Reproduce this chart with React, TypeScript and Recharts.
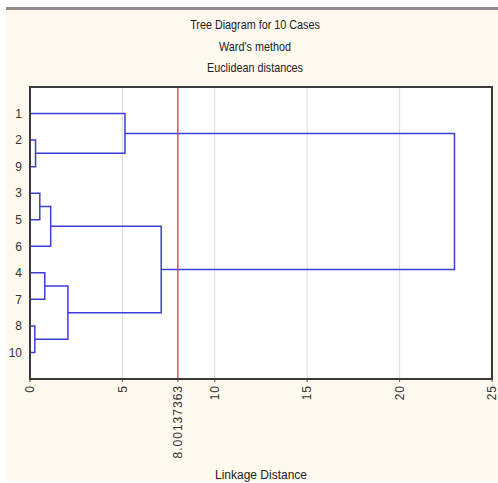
import { LineChart, Line, XAxis, YAxis, CartesianGrid, ReferenceLine, Label } from 'recharts';

const titleLines = ['Tree Diagram for 10 Cases', "Ward's method", 'Euclidean distances'];

// leaves in the order they appear, top to bottom
const leafLabels = ['1', '2', '9', '3', '5', '6', '4', '7', '8', '10'];

// merges: index < 10 is a leaf row, index >= 10 is an earlier merge (10 + k)
const mergeLeft = [1, 8, 3, 6, 12, 13, 0, 14, 16];
const mergeRight = [2, 9, 4, 7, 5, 11, 10, 15, 17];
const mergeHeight = [0.3, 0.26, 0.53, 0.8, 1.12, 2.05, 5.14, 7.1, 22.97];

const cutoff = 8.00137363;
const xTicks = [0, 5, cutoff, 10, 15, 20, 25];
const rowTicks = [1, 2, 3, 4, 5, 6, 7, 8, 9, 10];

// position (row) and height of every node
const nodeY: number[] = leafLabels.map((_, i) => i + 1);
const nodeH: number[] = leafLabels.map(() => 0);
mergeHeight.forEach((h, k) => {
  nodeY.push((nodeY[mergeLeft[k]] + nodeY[mergeRight[k]]) / 2);
  nodeH.push(h);
});

const links = mergeHeight.map((h, k) => {
  const a = mergeLeft[k];
  const b = mergeRight[k];
  return [
    { x: nodeH[a], y: nodeY[a] },
    { x: h, y: nodeY[a] },
    { x: h, y: nodeY[b] },
    { x: nodeH[b], y: nodeY[b] },
  ];
});

const font = "'Liberation Sans', Arial, sans-serif";

function XTick(props: any) {
  const { x, y, payload } = props;
  const v = payload.value;
  const text = v === cutoff ? '8.00137363' : String(v);
  return (
    <text
      x={0}
      y={0}
      dy="0.35em"
      transform={`translate(${x},${y}) rotate(-90)`}
      textAnchor="end"
      fontSize={12}
      letterSpacing={1}
      fill="#333"
      fontFamily={font}
    >
      {text}
    </text>
  );
}

export default function App() {
  return (
    <div style={{ position: 'absolute', left: 0, top: 0, width: 498, height: 483, background: '#fff' }}>
      <div style={{ position: 'absolute', left: 6, top: 7, width: 492, height: 3, background: '#8d8b89' }} />
      <div style={{ position: 'absolute', left: 6, top: 10, width: 492, height: 471, background: '#fdf9ee' }} />
      {titleLines.map((t, i) => (
        <div
          key={t}
          style={{
            position: 'absolute',
            left: 155,
            width: 200,
            top: 17 + i * 21.5,
            textAlign: 'center',
            fontFamily: font,
            fontSize: 13,
            color: '#222',
            lineHeight: '16px',
            transform: 'scaleX(0.83)',
          }}
        >
          {t}
        </div>
      ))}
      <div style={{ position: 'absolute', left: 0, top: 0, zIndex: 1 }}>
        <LineChart width={498} height={483} margin={{ top: 87, right: 6, left: 0, bottom: 0 }}>
          <CartesianGrid horizontal={false} stroke="#dcdcdc" fill="#fff" />
          <XAxis
            type="number"
            dataKey="x"
            domain={[0, 25]}
            ticks={xTicks}
            allowDataOverflow
            height={104}
            axisLine={{ stroke: '#3a3a3a', strokeWidth: 2 }}
            tickLine={{ stroke: '#555' }}
            tickSize={3}
            tickMargin={3}
            tick={<XTick />}
            interval={0}
          >
            <Label
              value="Linkage Distance"
              position="insideBottom"
              offset={4}
              fontSize={12}
              fill="#222"
              fontFamily={font}
            />
          </XAxis>
          <YAxis
            type="number"
            domain={[0, 11]}
            reversed
            ticks={rowTicks}
            interval={0}
            width={30}
            axisLine={{ stroke: '#3a3a3a', strokeWidth: 2 }}
            tickLine={false}
            tickSize={0}
            tickMargin={8}
            tickFormatter={(v: number) => leafLabels[v - 1]}
            tick={{ fontSize: 12, fill: '#333', fontFamily: font }}
          />
          {links.map((d, i) => (
            <Line
              key={i}
              data={d}
              dataKey="y"
              type="linear"
              stroke="#3d3ddb"
              strokeWidth={1.5}
              dot={false}
              isAnimationActive={false}
            />
          ))}
          <ReferenceLine x={cutoff} stroke="#e03c3c" strokeWidth={1.2} />
        </LineChart>
      </div>
      {/* plot frame */}
      <div
        style={{
          position: 'absolute',
          zIndex: 2,
          left: 29,
          top: 86,
          width: 464,
          height: 294,
          boxSizing: 'border-box',
          borderStyle: 'solid',
          borderWidth: 2,
          borderColor: '#3a3a3a',
          pointerEvents: 'none',
        }}
      />
    </div>
  );
}
